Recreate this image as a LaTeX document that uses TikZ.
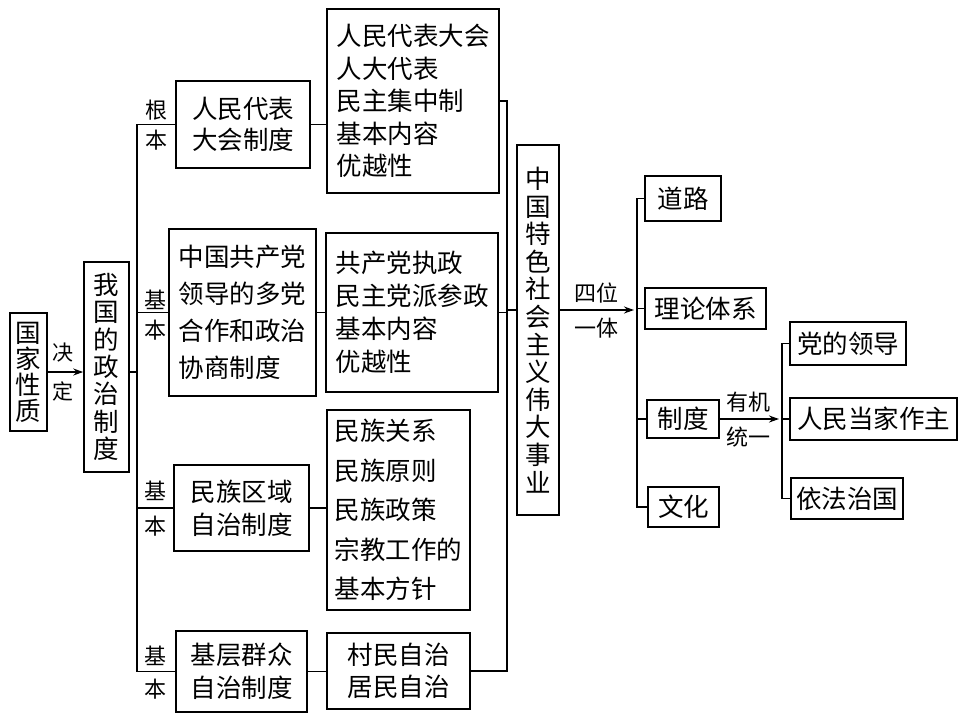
\documentclass[tikz,border=0pt]{standalone}
\usepackage{fontspec}
\setmainfont{Noto Sans CJK SC}
\usetikzlibrary{arrows.meta}
\begin{document}
\begin{tikzpicture}[x=1pt,y=-1pt,
 box/.style={draw, line width=1.6pt, inner sep=0pt, align=left, font=\fontsize{25.5}{32}\selectfont},
 lbl/.style={inner sep=0pt, align=center, font=\fontsize{22}{30}\selectfont},
 ln/.style={line width=1.6pt, line cap=rect},
 arr/.style={line width=1.6pt, -{Stealth[length=10pt,width=7pt]}}]
\useasboundingbox (0,0) rectangle (960,720);
% left
\node[box, minimum width=37pt, minimum height=118pt, align=center, font=\fontsize{25.5}{26}\selectfont] (A) at (28.5,372) {国\\家\\性\\质};
\node[box, minimum width=45pt, minimum height=210pt, align=center, font=\fontsize{25.5}{27.4}\selectfont] (B) at (106.5,367) {我\\国\\的\\政\\治\\制\\度};
% column C
\node[box, minimum width=134pt, minimum height=87pt, font=\fontsize{25.5}{31}\selectfont] (C1) at (243,124.5) {人民代表\\大会制度};
\node[box, minimum width=147pt, minimum height=167pt, font=\fontsize{25.5}{37}\selectfont] (C2) at (242.5,312.5) {中国共产党\\领导的多党\\合作和政治\\协商制度};
\node[box, minimum width=135pt, minimum height=86pt, font=\fontsize{25.5}{33}\selectfont] (C3) at (241.5,508) {民族区域\\自治制度};
\node[box, minimum width=131pt, minimum height=81pt, font=\fontsize{25.5}{33}\selectfont] (C4) at (241.5,671.5) {基层群众\\自治制度};
% column D
\node[box, minimum width=172pt, minimum height=184pt, font=\fontsize{25.5}{32.5}\selectfont] (D1) at (413,101) {人民代表大会\\人大代表\\民主集中制\\基本内容\\优越性};
\node[box, minimum width=172pt, minimum height=159pt, font=\fontsize{25.5}{33}\selectfont] (D2) at (412,312.5) {共产党执政\\民主党派参政\\基本内容\\优越性};
\node[box, minimum width=143pt, minimum height=200pt, font=\fontsize{25.5}{39.5}\selectfont] (D3) at (398.5,510) {民族关系\\民族原则\\民族政策\\宗教工作的\\基本方针};
\node[box, minimum width=143pt, minimum height=76pt, font=\fontsize{25.5}{32}\selectfont] (D4) at (398.5,671) {村民自治\\居民自治};
% E
\node[box, minimum width=42pt, minimum height=370pt, align=center, font=\fontsize{25.5}{27.6}\selectfont] (E) at (538,330) {中\\国\\特\\色\\社\\会\\主\\义\\伟\\大\\事\\业};
% F
\node[box, minimum width=76pt, minimum height=45pt] (F1) at (683,198.5) {道路};
\node[box, minimum width=121pt, minimum height=41pt] (F2) at (705.5,308.5) {理论体系};
\node[box, minimum width=72pt, minimum height=38pt] (F3) at (683,419) {制度};
\node[box, minimum width=71pt, minimum height=40pt] (F4) at (683.5,507) {文化};
% G
\node[box, minimum width=116pt, minimum height=43pt] (G1) at (848,343.5) {党的领导};
\node[box, minimum width=167pt, minimum height=42pt] (G2) at (873.5,419) {人民当家作主};
\node[box, minimum width=112pt, minimum height=41pt] (G3) at (847,498.5) {依法治国};
% labels
\node[lbl, font=\fontsize{21}{39}\selectfont] (l0) at (63,372) {决\\定};
\node[lbl] (l1) at (156,125) {根\\本};
\node[lbl] (l2) at (155,315) {基\\本};
\node[lbl, font=\fontsize{22}{35}\selectfont] (l3) at (155,509) {基\\本};
\node[lbl, font=\fontsize{22}{33}\selectfont] (l4) at (155,673) {基\\本};
\node[lbl] (l5) at (596,293) {四位};
\node[lbl] (l6) at (596,328) {一体};
\node[lbl] (l7) at (748,402) {有机};
\node[lbl] (l8) at (748,437) {统一};
% connectors
\draw[arr] (A.east) -- (A.east -| B.west);
\coordinate (T) at (137,372);
\draw[ln] (B.east |- T) -- (T);
\draw[ln] (T |- C1.west) -- (T |- C4.west);
\foreach \c in {C1,C2,C3,C4} \draw[ln] (T |- \c.west) -- (\c.west);
\draw[ln] (C1.east) -- (C1.east -| D1.west);
\draw[ln] (C2.east) -- (C2.east -| D2.west);
\draw[ln] (C3.east) -- (C3.east -| D3.west);
\draw[ln] (C4.east) -- (C4.east -| D4.west);
\coordinate (R) at (507,310);
\draw[ln] (D1.east) -- (D1.east -| R) -- (D4.east -| R) -- (D4.east);
\draw[ln] (D2.east) -- (D2.east -| R);
\draw[ln] (R) -- (R -| E.west);
\coordinate (Sa) at (634,310);
\coordinate (S) at (637,310);
\draw[arr] (R -| E.east) -- (Sa);
\draw[ln] (S |- F1.west) -- (S |- F4.west);
\foreach \f in {F1,F2,F3,F4} \draw[ln] (S |- \f.west) -- (\f.west);
\coordinate (Ua) at (779,419);
\coordinate (V) at (782,419);
\draw[arr] (F3.east) -- (Ua);
\draw[ln] (V |- G1.west) -- (V |- G3.west);
\foreach \g in {G1,G2,G3} \draw[ln] (V |- \g.west) -- (\g.west);
\end{tikzpicture}
\end{document}
